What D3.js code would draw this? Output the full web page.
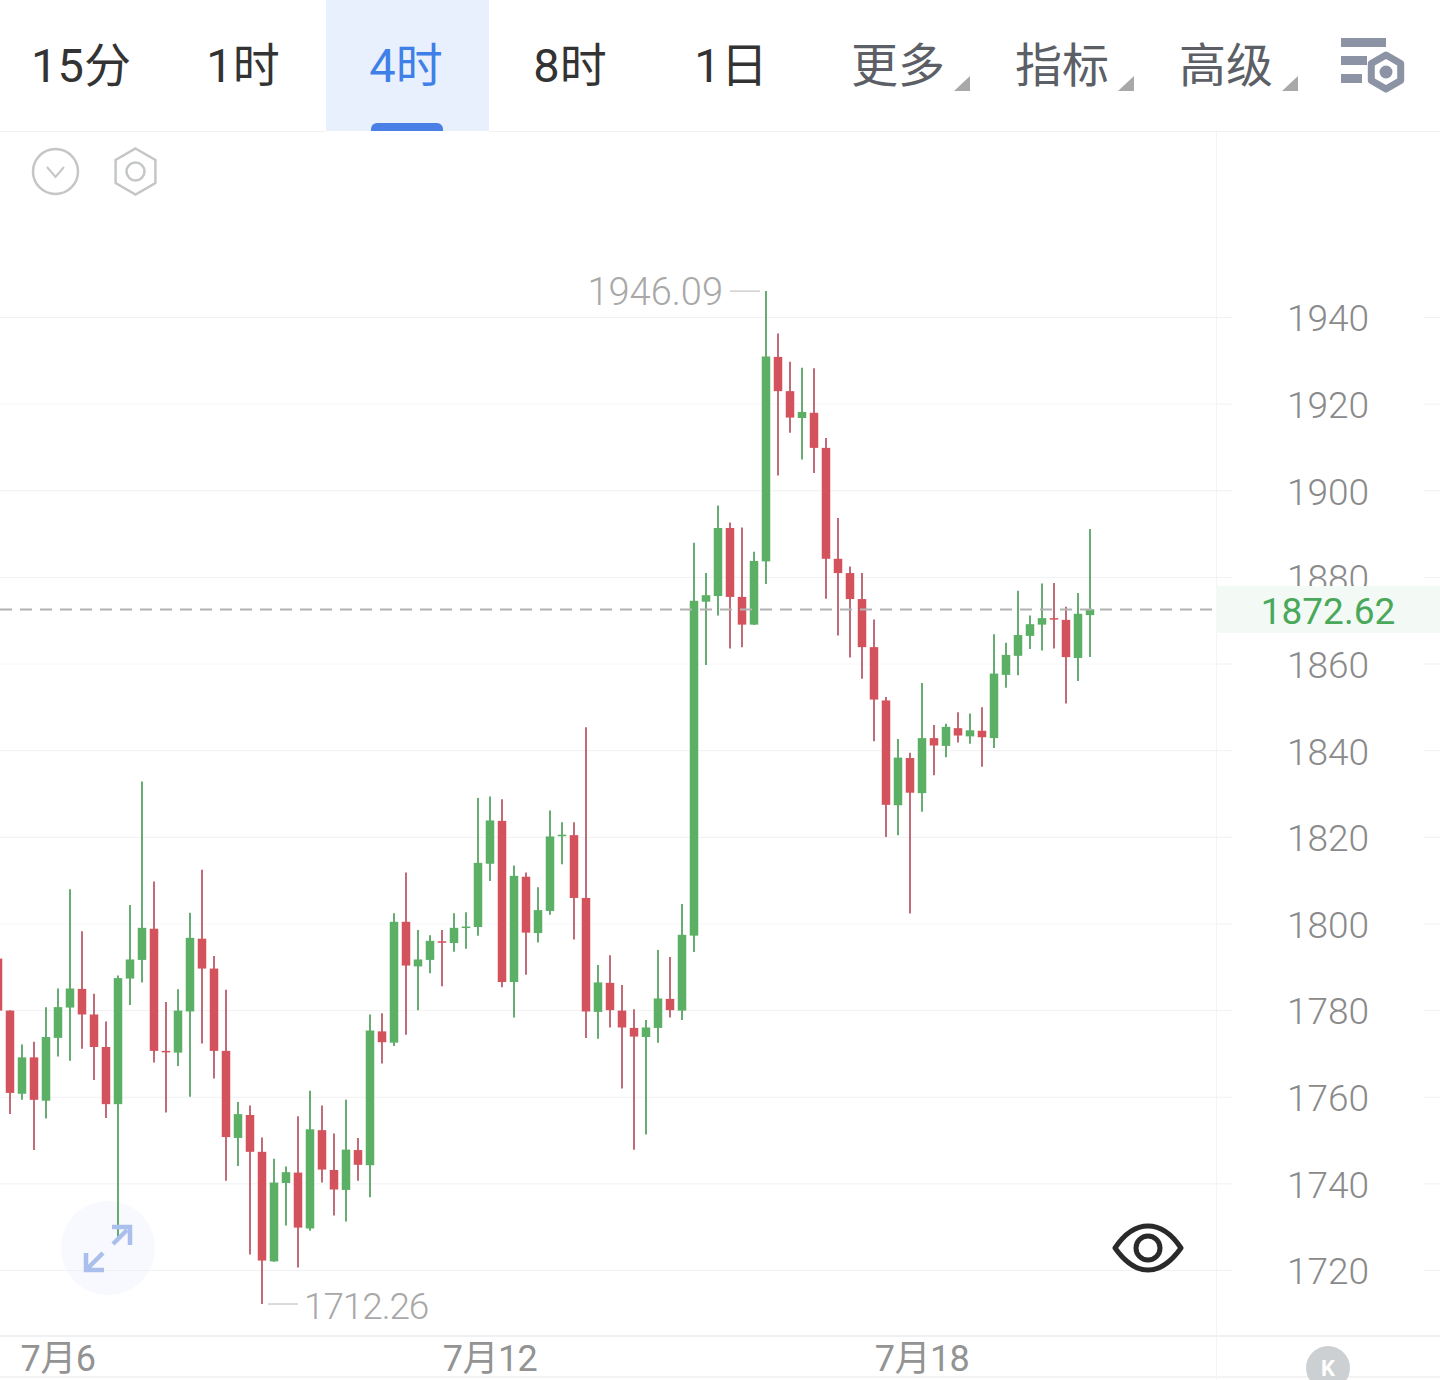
<!DOCTYPE html>
<html lang="zh">
<head>
<meta charset="utf-8">
<title>K线图</title>
<script src="https://cdn.jsdelivr.net/npm/d3@7/dist/d3.min.js"></script>
<style>
  html, body { margin: 0; padding: 0; background: #fff; overflow: hidden; }
  svg { display: block; }
  text { font-family: Roboto, "Noto Sans CJK SC", sans-serif; font-weight: 300; }
</style>
</head>
<body>
<svg id="chart" width="1440" height="1380"></svg>
<script>
// 4-hour candles, oldest first
const opens = [1792.0,1780.0,1760.8,1769.2,1759.2,1773.7,1780.7,1785.0,1779.1,1771.6,1758.4,1787.4,1791.7,1798.9,1770.7,1770.3,1779.8,1796.6,1789.7,1770.7,1750.6,1755.9,1747.4,1722.1,1740.2,1742.6,1729.7,1752.4,1743.2,1738.6,1747.8,1744.3,1775.2,1772.6,1800.5,1790.2,1791.7,1796.0,1795.6,1799.2,1799.3,1813.9,1823.8,1786.6,1810.9,1797.9,1803.0,1820.4,1820.5,1806.0,1779.7,1786.4,1780.0,1776.0,1773.9,1776.0,1782.7,1780.0,1797.3,1874.4,1875.7,1891.4,1875.5,1869.1,1883.7,1930.9,1923.0,1916.8,1918.0,1909.9,1884.3,1881.0,1875.0,1863.9,1851.6,1827.4,1838.3,1830.2,1842.9,1841.1,1845.2,1843.3,1844.6,1842.9,1857.5,1861.9,1866.5,1869.1,1870.6,1870.2,1861.4,1871.3];
const highs = [1792.1,1780.1,1772.2,1772.8,1780.8,1785.1,1808.0,1798.3,1783.9,1777.5,1788.1,1804.4,1832.9,1809.8,1782.0,1784.9,1802.6,1812.5,1792.6,1784.8,1758.9,1758.1,1750.7,1745.8,1744.0,1755.6,1761.5,1758.1,1751.6,1759.4,1750.6,1779.1,1779.4,1802.5,1811.9,1798.6,1797.4,1798.6,1802.5,1802.7,1829.1,1829.4,1828.8,1813.5,1811.9,1808.5,1826.2,1823.5,1823.5,1845.4,1790.5,1792.8,1785.9,1780.3,1777.8,1794.0,1792.4,1804.6,1888.0,1881.0,1896.6,1892.7,1891.5,1885.9,1946.09,1936.3,1929.8,1928.4,1928.3,1912.2,1893.7,1882.5,1881.0,1870.3,1852.4,1842.7,1839.5,1855.6,1845.9,1846.2,1848.9,1848.6,1850.0,1866.9,1864.9,1876.9,1871.2,1878.6,1878.7,1873.2,1876.4,1891.2];
const lows = [1779.9,1756.1,1759.4,1747.8,1755.1,1769.4,1768.4,1771.2,1764.0,1755.2,1727.8,1781.3,1786.5,1768.0,1756.5,1767.2,1760.1,1772.4,1764.3,1740.7,1744.1,1723.7,1712.26,1722.0,1730.4,1720.7,1729.2,1740.3,1732.7,1731.3,1740.7,1736.9,1767.8,1771.8,1774.4,1780.1,1788.6,1785.6,1793.6,1794.3,1797.3,1809.9,1785.4,1778.4,1788.3,1795.7,1802.1,1813.8,1796.4,1773.7,1773.5,1776.1,1762.0,1747.9,1751.4,1772.6,1778.4,1777.8,1793.5,1859.8,1871.2,1863.6,1863.9,1869.0,1878.5,1903.5,1913.4,1907.2,1904.1,1875.1,1866.6,1861.5,1856.6,1842.2,1820.1,1820.5,1802.4,1825.9,1834.3,1838.5,1841.9,1841.6,1836.3,1840.6,1854.5,1857.4,1863.5,1863.1,1863.6,1850.9,1856.1,1861.6];
const closes = [1780.0,1761.0,1769.2,1759.4,1773.9,1780.8,1785.1,1779.1,1771.6,1758.4,1787.5,1791.8,1799.1,1770.7,1770.4,1780.0,1796.8,1789.7,1770.7,1750.8,1756.1,1747.4,1722.3,1740.3,1742.7,1729.9,1752.6,1743.3,1738.7,1747.9,1744.4,1775.4,1772.7,1800.5,1790.4,1791.8,1796.1,1795.8,1799.1,1799.4,1814.1,1823.9,1786.6,1811.1,1798.0,1803.2,1820.2,1820.6,1806.0,1779.8,1786.5,1780.1,1776.1,1774.0,1776.1,1782.8,1780.1,1797.5,1874.6,1875.9,1891.4,1875.5,1869.1,1883.8,1931.0,1923.0,1916.9,1918.2,1909.9,1884.3,1881.0,1875.0,1863.9,1851.8,1827.5,1838.4,1830.3,1842.9,1841.2,1845.5,1843.5,1844.7,1843.1,1857.8,1862.1,1866.7,1869.2,1870.6,1870.4,1861.6,1871.6,1872.62];

// Price and date axes
const priceTicks = [1940,1920,1900,1880,1860,1840,1820,1800,1780,1760,1740,1720];
const fainterGrid = [1920,1860,1800];
const dateTicks = [5,41,77];
const dateLabels = ["7月6","7月12","7月18"];

// Header tabs
const tabLabels = ["15分","1时","4时","8时","1日","更多","指标","高级"];
const activeTab = "4时";
const menuTabs = ["更多","指标","高级"];

const lastPrice = closes[closes.length - 1];
const maxHigh = d3.max(highs);
const minLow = d3.min(lows);

const COLORS = {
  up: "#5cb066", upWick: "#56a362",
  down: "#d4525c", downWick: "#b95d6a",
  grid: "#f0f1f3", gridFaint: "#f8f8f9",
  tick: "#8a8a8a", note: "#a8a8a8", noteLine: "#cfcfcf"
};

const svg = d3.select("#chart");
const plotRight = 1216;
const y = d3.scaleLinear().domain([1720, 1940]).range([1270.5, 317.5]);
const x = d3.scaleBand().domain(d3.range(opens.length)).range([-8, 1096]);
const cx = i => x(i) + x.bandwidth() / 2;
const bodyWidth = 8.5;

// ---- header ----
const header = svg.append("g");
const tabX = d3.scaleOrdinal().domain(tabLabels).range([81,243,406,570,731,898,1062,1226]);

header.append("rect").attr("x", 326).attr("y", 0).attr("width", 163).attr("height", 131).attr("fill", "#e8f0fd");
header.append("path").attr("d", "M371 131V129a6 6 0 0 1 6-6H437a6 6 0 0 1 6 6V131Z").attr("fill", "#4a7fe6");

header.selectAll("text.tab").data(tabLabels).join("text")
  .attr("class", "tab")
  .attr("x", d => tabX(d)).attr("y", 82)
  .attr("text-anchor", "middle")
  .attr("font-size", 47)
  .style("font-weight", 400)
  .attr("fill", d => d === activeTab ? "#3f7fe8" : (menuTabs.includes(d) ? "#5c5f66" : "#333333"))
  .text(d => d);

header.selectAll("path.corner").data(menuTabs).join("path")
  .attr("class", "corner")
  .attr("d", d => { const r = tabX(d) + 72; return `M${r-16} 91L${r} 76V91Z`; })
  .attr("fill", "#a8a8a8");

// settings glyph
const gear = svg.append("g").attr("fill", "#8b93a5");
gear.append("rect").attr("x", 1341).attr("y", 38).attr("width", 45).attr("height", 9);
gear.append("rect").attr("x", 1341).attr("y", 56).attr("width", 26).attr("height", 9);
gear.append("rect").attr("x", 1341).attr("y", 74).attr("width", 21).attr("height", 9);

const hexPath = (cx0, cy0, r) => d3.range(6).map(k => {
  const a = Math.PI / 3 * k - Math.PI / 2;
  return (k ? "L" : "M") + (cx0 + r * Math.cos(a)).toFixed(1) + " " + (cy0 + r * Math.sin(a)).toFixed(1);
}).join("") + "Z";

gear.append("path").attr("d", hexPath(1386, 72, 20)).attr("fill", "#fff");
gear.append("path").attr("d", hexPath(1386, 72, 17)).attr("fill", "none").attr("stroke", "#8b93a5").attr("stroke-width", 7).attr("stroke-linejoin", "round");
gear.append("circle").attr("cx", 1386).attr("cy", 72).attr("r", 6.5);

// ---- frame lines ----
const frame = svg.append("g").attr("stroke", "#f0f1f3").attr("fill", "none");
frame.append("line").attr("x1", 0).attr("x2", 326).attr("y1", 131.5).attr("y2", 131.5);
frame.append("line").attr("x1", 489).attr("x2", 1440).attr("y1", 131.5).attr("y2", 131.5);
frame.append("line").attr("x1", plotRight + .5).attr("x2", plotRight + .5).attr("y1", 132).attr("y2", 1380).attr("stroke", "#f4f4f5");
frame.append("line").attr("x1", 0).attr("x2", 1440).attr("y1", 1336).attr("y2", 1336).attr("stroke-width", 2);
frame.append("line").attr("x1", 0).attr("x2", 1440).attr("y1", 1377).attr("y2", 1377).attr("stroke", "#f4f4f5").attr("stroke-width", 2);

// chart tools, upper left
const tools = svg.append("g").attr("fill", "none").attr("stroke", "#c4c6c8").attr("stroke-width", 2.5);
tools.append("circle").attr("cx", 55.5).attr("cy", 171.5).attr("r", 22.5);
tools.append("path").attr("d", "M47 167L55.5 177L64 167").attr("stroke-width", 2);
tools.append("path").attr("d", hexPath(135.5, 171.5, 23));
tools.append("circle").attr("cx", 135.5).attr("cy", 171.5).attr("r", 9);

// ---- expand button, sits under the grid and candles ----
svg.append("circle").attr("cx", 108).attr("cy", 1248).attr("r", 47).attr("fill", "#f8f9fe");

// ---- grid ----
const grid = svg.append("g");
grid.selectAll("line.grid").data(priceTicks).join("line")
  .attr("class", "grid")
  .attr("x1", 0).attr("x2", plotRight)
  .attr("y1", d => y(d)).attr("y2", d => y(d))
  .attr("stroke", d => fainterGrid.includes(d) ? COLORS.gridFaint : COLORS.grid);
grid.selectAll("line.stubL").data(priceTicks).join("line")
  .attr("class", "stubL")
  .attr("x1", plotRight).attr("x2", 1232)
  .attr("y1", d => y(d)).attr("y2", d => y(d))
  .attr("stroke", COLORS.grid);
grid.selectAll("line.stubR").data(priceTicks).join("line")
  .attr("class", "stubR")
  .attr("x1", 1424).attr("x2", 1440)
  .attr("y1", d => y(d)).attr("y2", d => y(d))
  .attr("stroke", COLORS.grid);

// ---- candles ----
const candles = svg.append("g").selectAll("g").data(d3.range(opens.length)).join("g");
candles.append("line")
  .attr("x1", i => cx(i)).attr("x2", i => cx(i))
  .attr("y1", i => y(highs[i])).attr("y2", i => y(lows[i]))
  .attr("stroke", i => closes[i] >= opens[i] ? COLORS.upWick : COLORS.downWick)
  .attr("stroke-width", 1.8);
candles.append("rect")
  .attr("x", i => cx(i) - bodyWidth / 2)
  .attr("width", bodyWidth)
  .attr("y", i => y(Math.max(opens[i], closes[i])))
  .attr("height", i => Math.max(1.5, Math.abs(y(opens[i]) - y(closes[i]))))
  .attr("fill", i => closes[i] >= opens[i] ? COLORS.up : COLORS.down);

// expand arrows
const arrows = svg.append("g").attr("fill", "none").attr("stroke", "#aabfec").attr("stroke-width", 4.5);
arrows.append("path").attr("d", "M112 1227H130V1245M127 1230L113 1244");
arrows.append("path").attr("d", "M86 1253V1270H104M88 1268L103 1253");

// ---- last price ----
svg.append("line")
  .attr("x1", 0).attr("x2", 1213)
  .attr("y1", y(lastPrice)).attr("y2", y(lastPrice))
  .attr("stroke", "#b2b2b2").attr("stroke-width", 2)
  .attr("stroke-dasharray", "12 8");

// ---- axes ----
const yAxis = d3.axisRight(y).tickValues(priceTicks).tickSize(0).tickPadding(0).tickFormat(d3.format("d"));
const yG = svg.append("g").attr("transform", "translate(1328,0)").call(yAxis);
yG.select(".domain").remove();
yG.selectAll("text")
  .attr("text-anchor", "middle").attr("x", 0).attr("dy", "0.36em")
  .attr("font-size", 37).attr("fill", COLORS.tick)
  .style("font-family", "Roboto, sans-serif");

const xAxis = d3.axisBottom(x).tickValues(dateTicks).tickSize(0).tickPadding(0)
  .tickFormat(d => dateLabels[dateTicks.indexOf(d)]);
const xG = svg.append("g").attr("transform", "translate(0,1336)").call(xAxis);
xG.select(".domain").remove();
xG.selectAll("text")
  .attr("y", 0).attr("dy", "0").attr("transform", "translate(0,35)")
  .attr("font-size", 36).attr("letter-spacing", -0.5)
  .style("font-weight", 400).attr("fill", "#939393");

// last price tag masks the axis label it overlaps
svg.append("rect").attr("x", plotRight).attr("y", 586).attr("width", 224).attr("height", 47).attr("fill", "#f3f9f5");
svg.append("text")
  .attr("x", 1328).attr("y", y(lastPrice)).attr("dy", "0.39em")
  .attr("text-anchor", "middle").attr("font-size", 37).attr("fill", "#4aa85a")
  .style("font-weight", 400)
  .text(d3.format(".2f")(lastPrice));

// ---- extreme notes ----
const iHigh = highs.indexOf(maxHigh), iLow = lows.indexOf(minLow);
const notes = svg.append("g");
notes.append("line").attr("x1", cx(iHigh) - 36).attr("x2", cx(iHigh) - 6)
  .attr("y1", y(maxHigh)).attr("y2", y(maxHigh)).attr("stroke", COLORS.noteLine).attr("stroke-width", 1.5);
notes.append("text").attr("x", cx(iHigh) - 43).attr("y", y(maxHigh)).attr("dy", "0.37em")
  .attr("text-anchor", "end").attr("font-size", 38).attr("fill", COLORS.note).text(d3.format(".2f")(maxHigh));
notes.append("line").attr("x1", cx(iLow) + 6).attr("x2", cx(iLow) + 36)
  .attr("y1", y(minLow)).attr("y2", y(minLow)).attr("stroke", COLORS.noteLine).attr("stroke-width", 1.5);
notes.append("text").attr("x", cx(iLow) + 42).attr("y", y(minLow)).attr("dy", "0.4em")
  .attr("text-anchor", "start").attr("font-size", 37).attr("letter-spacing", -1.1)
  .attr("fill", COLORS.note).text(d3.format(".2f")(minLow));

// ---- eye toggle ----
const eye = svg.append("g").attr("fill", "none").attr("stroke", "#2a2a2a").attr("stroke-width", 5);
eye.append("path").attr("d", "M1115 1248C1125 1233 1136 1226 1148 1226C1160 1226 1171 1233 1181 1248C1171 1262 1160 1270 1148 1270C1136 1270 1125 1262 1115 1248Z").attr("stroke-linejoin", "round");
eye.append("circle").attr("cx", 1148).attr("cy", 1248).attr("r", 12);

// ---- K badge ----
svg.append("circle").attr("cx", 1328).attr("cy", 1368).attr("r", 22).attr("fill", "#cdd0d3");
svg.append("text").attr("x", 1328).attr("y", 1376).attr("text-anchor", "middle")
  .attr("font-size", 22).attr("fill", "#fff").style("font-weight", 700).text("K");
</script>
</body>
</html>
